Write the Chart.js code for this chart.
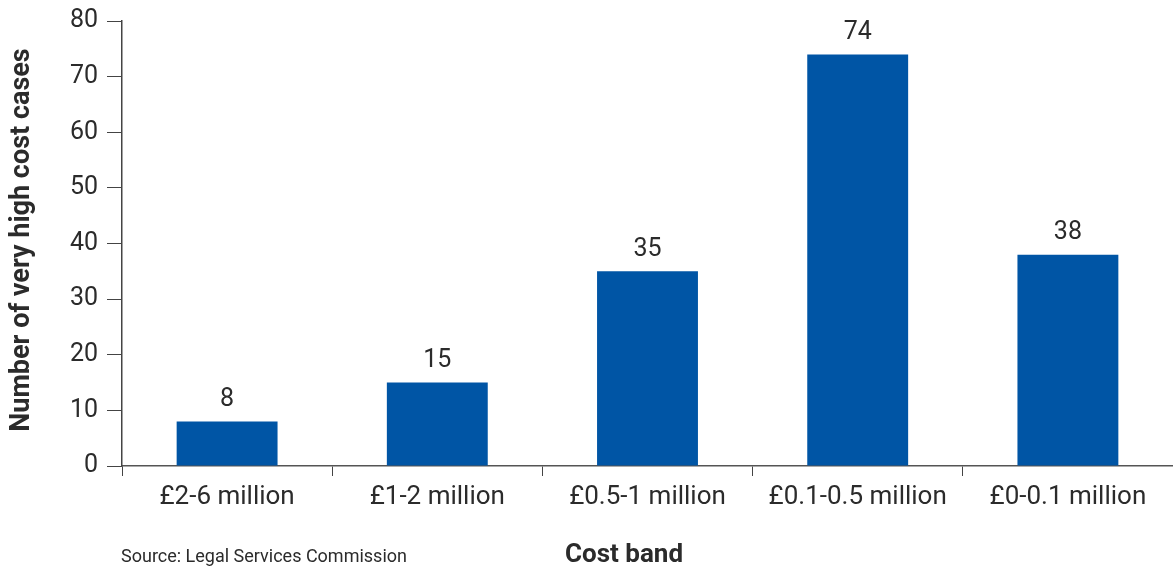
<!DOCTYPE html>
<html>
<head>
<meta charset="utf-8">
<script src="https://cdn.jsdelivr.net/npm/chart.js@4/dist/chart.umd.min.js"></script>
<style>
html,body{margin:0;padding:0;background:#fff;}
#wrap{width:1173px;height:569px;position:relative;}
</style>
</head>
<body>
<div id="wrap"><canvas id="c"></canvas></div>
<script>
const categories = ["£2-6 million","£1-2 million","£0.5-1 million","£0.1-0.5 million","£0-0.1 million"];
const cases = [8, 15, 35, 74, 38];
const yTicks = [0,10,20,30,40,50,60,70,80];
const yTitle = "Number of very high cost cases";
const xTitle = "Cost band";
const sourceNote = "Source: Legal Services Commission";

const TXT = "#2b2b2b";
const FONT = "Roboto, 'Liberation Sans', sans-serif";

const extras = {
  id: "extras",
  afterDatasetsDraw(chart) {
    const ctx = chart.ctx;
    const meta = chart.getDatasetMeta(0);
    ctx.save();
    ctx.fillStyle = TXT;
    ctx.font = "25px " + FONT;
    ctx.textAlign = "center";
    ctx.textBaseline = "bottom";
    meta.data.forEach((bar, i) => {
      ctx.fillText(String(cases[i]), bar.x, bar.y - 9);
    });
    // y title
    ctx.font = "bold 27px " + FONT;
    ctx.translate(22, 240);
    ctx.rotate(-Math.PI / 2);
    ctx.textAlign = "center";
    ctx.textBaseline = "middle";
    ctx.fillText(yTitle, 0, 0);
    ctx.restore();
    ctx.save();
    ctx.fillStyle = TXT;
    ctx.font = "bold 26px " + FONT;
    ctx.textAlign = "center";
    ctx.textBaseline = "middle";
    ctx.fillText(xTitle, 624, 555);
    ctx.font = "18px " + FONT;
    ctx.textAlign = "left";
    ctx.fillText(sourceNote, 121, 557);
    ctx.restore();
  }
};

new Chart(document.getElementById("c"), {
  type: "bar",
  data: {
    labels: categories,
    datasets: [{
      data: cases,
      backgroundColor: "#0055a5",
      borderWidth: 0,
      barPercentage: 0.96,
      categoryPercentage: 0.5
    }]
  },
  options: {
    responsive: true,
    maintainAspectRatio: false,
    animation: false,
    layout: { padding: { top: 21, right: 0, left: 0, bottom: 0 } },
    plugins: { legend: { display: false }, tooltip: { enabled: false } },
    scales: {
      x: {
        offset: true,
        grid: { display: true, drawOnChartArea: false, drawTicks: true, tickLength: 10, color: "#444", offset: true, lineWidth: 1 },
        border: { display: true, color: "#555", width: 1.5 },
        ticks: { color: TXT, font: { size: 26, family: FONT }, padding: 6, maxRotation: 0, autoSkip: false },
        afterFit(s) { s.height = 103; s.paddingLeft = 0; s.paddingRight = 0; }
      },
      y: {
        min: 0, max: 80,
        afterBuildTicks(s) { s.ticks = yTicks.map(v => ({ value: v })); },
        grid: { display: true, drawOnChartArea: false, drawTicks: true, tickLength: 15, color: "#444", lineWidth: 1 },
        border: { display: true, color: "#444", width: 1.5 },
        ticks: { color: TXT, font: { size: 25, family: FONT }, padding: 9 },
        afterFit(s) { s.width = 122; s.paddingTop = 0; s.paddingBottom = 0; }
      }
    }
  },
  plugins: [extras]
});
</script>
</body>
</html>
